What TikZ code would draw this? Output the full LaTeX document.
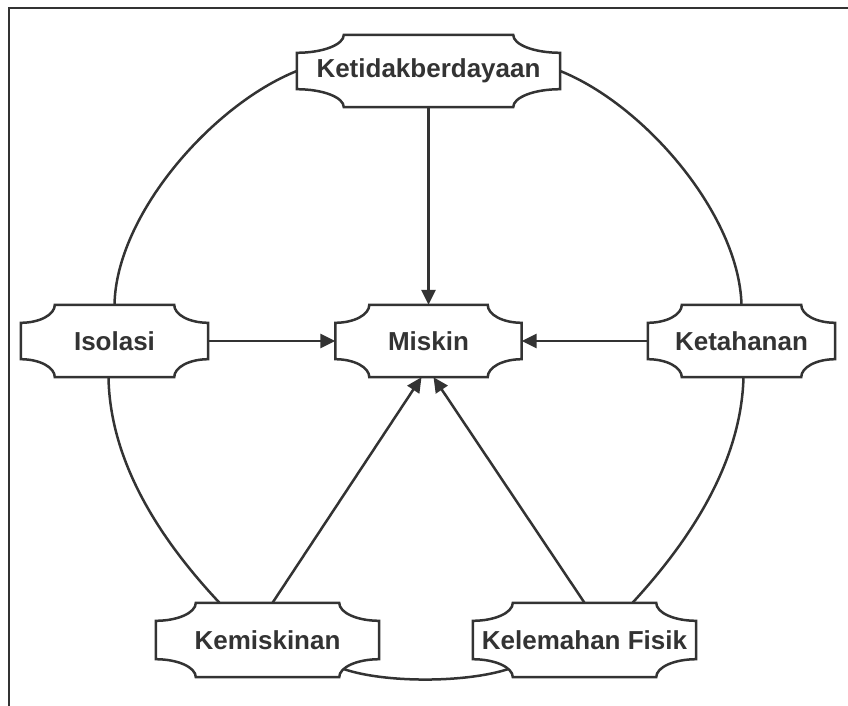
\documentclass[tikz,border=0pt]{standalone}
\usepackage{fontspec}
\setmainfont{Liberation Sans}
\usetikzlibrary{arrows.meta,calc,positioning}
\definecolor{inkgray}{HTML}{333333}
\tikzset{
    plaque/.style={minimum height=72pt, inner sep=0pt, text=inkgray,
        font=\bfseries\fontsize{26}{30}\selectfont},
    plaqueline/.style={draw=inkgray, line width=2.5pt},
    ring/.style={draw=inkgray, line width=2.5pt},
    cause/.style={draw=inkgray, line width=2.5pt, -{Triangle[length=15pt,width=14pt]}}
}

\begin{document}
\begin{tikzpicture}[x=1pt,y=-1pt]

    \useasboundingbox (0,0) rectangle (848,706);

    % Frame.
    \draw[plaqueline] (9,706) -- (9,8) -- (848,8);

    % Nodes.
    \node[plaque, minimum width=263pt] (ketid) at (428.5,71) {Ketidakberdayaan};
    \node[plaque, minimum width=187pt] (iso) at (114.5,341) {Isolasi};
    \node[plaque, minimum width=186pt] (mis) at (428.5,341) {Miskin};
    \node[plaque, minimum width=187pt] (ketah) at (741.5,341) {Ketahanan};
    \node[plaque, minimum width=223pt, minimum height=74pt] (kemis) at (267.5,640) {Kemiskinan};
    \node[plaque, minimum width=223pt, minimum height=74pt] (kelem) at (584.5,640) {Kelemahan Fisik};

    % Plaque outlines.
    \foreach \n/\cx in {ketid/47pt,iso/34pt,mis/34pt,ketah/34pt,kemis/40pt,kelem/40pt}
        \draw[plaqueline] ($(\n.north west)+(0pt,-18pt)$)
            arc[start angle=-90,end angle=0,x radius=\cx,y radius=18pt]
            -- ($(\n.north east)+(-\cx,0pt)$)
            arc[start angle=180,end angle=270,x radius=\cx,y radius=18pt]
            -- ($(\n.south east)+(0pt,18pt)$)
            arc[start angle=90,end angle=180,x radius=\cx,y radius=18pt]
            -- ($(\n.south west)+(\cx,0pt)$)
            arc[start angle=0,end angle=90,x radius=\cx,y radius=18pt]
            -- cycle;

    % Outer ring.
    \draw[ring] (iso.north) .. controls (116,215) and (212,105) .. (ketid.west);
    \draw[ring] (ketid.east) .. controls (645,105) and (739,215) .. (ketah.north);
    \draw[ring] ([xshift=-6pt]iso.south) .. controls (110,470) and (170,550) .. ([xshift=-48pt]kemis.north);
    \draw[ring] ([xshift=2pt]ketah.south) .. controls (741,470) and (681,550) .. ([xshift=48pt]kelem.north);
    \draw[ring] ($(kemis.south east)+(-35pt,8pt)$) .. controls (385,683) and (465,683) .. ($(kelem.south west)+(35pt,8pt)$);

    % Causes of poverty.
    \draw[cause] (ketid) -- (mis);
    \draw[cause] (iso) -- (mis);
    \draw[cause] (ketah) -- (mis);
    \draw[cause] ([xshift=5pt]kemis.north) -- ([xshift=-7pt]mis.south);
    \draw[cause] (kelem.north) -- ([xshift=5pt]mis.south);

\end{tikzpicture}
\end{document}
